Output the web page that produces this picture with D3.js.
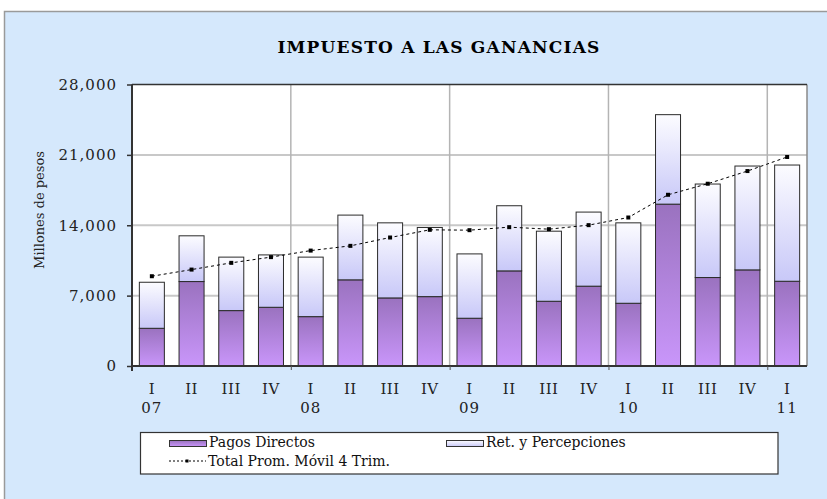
<!DOCTYPE html>
<html>
<head>
<meta charset="utf-8">
<script src="https://cdn.jsdelivr.net/npm/d3@7/dist/d3.min.js"></script>
<style>
  html, body { margin: 0; padding: 0; background: #ffffff; }
  svg { display: block; }
</style>
</head>
<body>
<svg id="chart" width="827" height="499"></svg>
<script>
// ---- data ----
const quarters = ["I","II","III","IV","I","II","III","IV","I","II","III","IV","I","II","III","IV","I"];
const years = ["07","","","","08","","","","09","","","","10","","","","11"];
const pagosDirectos = [3750, 8400, 5510, 5840, 4910, 8570, 6770, 6900, 4750, 9460, 6440, 7940, 6240, 16100, 8800, 9560, 8430];
const retenciones = [4580, 4550, 5320, 5210, 5920, 6440, 7470, 6880, 6400, 6480, 6970, 7370, 8000, 8900, 9300, 10330, 11560];
const promedioMovil = [8930, 9590, 10260, 10830, 11480, 11950, 12780, 13545, 13510, 13810, 13610, 14010, 14770, 17030, 18130, 19390, 20790];
const yTicks = [0, 7000, 14000, 21000, 28000];
const yearBoundaries = [4, 8, 12, 16];
const legendLabels = ["Pagos Directos", "Ret. y Percepciones", "Total Prom. Móvil 4 Trim."];

const W = 827, H = 499;
const plot = { left: 132, right: 807, top: 84.5, bottom: 366 };
const serif = "'DejaVu Serif', 'Liberation Serif', serif";

const svg = d3.select("#chart");
const defs = svg.append("defs");

const gP = defs.append("linearGradient").attr("id", "gradPagos")
  .attr("x1", 0).attr("y1", 0).attr("x2", 0).attr("y2", 1);
gP.append("stop").attr("offset", "0%").attr("stop-color", "#9a72bf");
gP.append("stop").attr("offset", "100%").attr("stop-color", "#c996fa");

const gR = defs.append("linearGradient").attr("id", "gradRet")
  .attr("x1", 0).attr("y1", 0).attr("x2", 0).attr("y2", 1);
gR.append("stop").attr("offset", "0%").attr("stop-color", "#fcfcff");
gR.append("stop").attr("offset", "100%").attr("stop-color", "#c8c8f8");

// background panel
svg.append("rect").attr("x", 0).attr("y", 0).attr("width", W).attr("height", H).attr("fill", "#ffffff");
svg.append("rect").attr("x", 4.5).attr("y", 11.5).attr("width", W + 10).attr("height", H + 10)
  .attr("fill", "#d5e8fc").attr("stroke", "#9a9a9a").attr("stroke-width", 1.5);

// title
svg.append("text").attr("x", 439).attr("y", 53).attr("text-anchor", "middle")
  .attr("font-family", serif).attr("font-weight", "bold").attr("font-size", 17)
  .attr("letter-spacing", 1.2)
  .attr("fill", "#000").text("IMPUESTO A LAS GANANCIAS");

// scales
const x = d3.scaleBand().domain(d3.range(quarters.length)).range([plot.left, plot.right]).paddingInner(0.37).paddingOuter(0.185);
const xb = d3.scaleLinear().domain([0, quarters.length]).range([plot.left, plot.right]);
const y = d3.scaleLinear().domain([0, 28000]).range([plot.bottom, plot.top]);

// plot area
svg.append("rect").attr("x", plot.left).attr("y", plot.top)
  .attr("width", plot.right - plot.left).attr("height", plot.bottom - plot.top).attr("fill", "#ffffff");

// gridlines
svg.append("g").selectAll("line").data(yTicks.slice(1, -1)).join("line")
  .attr("x1", plot.left).attr("x2", plot.right)
  .attr("y1", d => y(d)).attr("y2", d => y(d))
  .attr("stroke", "#c8c8c8").attr("stroke-width", 2);
svg.append("g").selectAll("line").data(yearBoundaries).join("line")
  .attr("x1", d => xb(d)).attr("x2", d => xb(d))
  .attr("y1", plot.top).attr("y2", plot.bottom)
  .attr("stroke", "#b4b4b4").attr("stroke-width", 1.5);

// plot frame
svg.append("line").attr("x1", plot.right).attr("x2", plot.right).attr("y1", plot.top).attr("y2", plot.bottom)
  .attr("stroke", "#8a8a8a").attr("stroke-width", 1.5);
svg.append("line").attr("x1", plot.left).attr("x2", plot.right).attr("y1", plot.top).attr("y2", plot.top)
  .attr("stroke", "#333").attr("stroke-width", 1.5);

// bars
const bars = svg.append("g");
bars.selectAll("rect.pagos").data(pagosDirectos).join("rect").attr("class", "pagos")
  .attr("x", (d, i) => x(i)).attr("width", x.bandwidth())
  .attr("y", d => y(d)).attr("height", d => y(0) - y(d))
  .attr("fill", "url(#gradPagos)").attr("stroke", "#2a2a2a").attr("stroke-width", 1);
bars.selectAll("rect.ret").data(retenciones).join("rect").attr("class", "ret")
  .attr("x", (d, i) => x(i)).attr("width", x.bandwidth())
  .attr("y", (d, i) => y(pagosDirectos[i] + d)).attr("height", (d, i) => y(pagosDirectos[i]) - y(pagosDirectos[i] + d))
  .attr("fill", "url(#gradRet)").attr("stroke", "#2a2a2a").attr("stroke-width", 1);

// moving average line
const cx = i => x(i) + x.bandwidth() / 2;
svg.append("path").datum(promedioMovil)
  .attr("d", d3.line().x((d, i) => cx(i)).y(d => y(d)))
  .attr("fill", "none").attr("stroke", "#000").attr("stroke-width", 1).attr("stroke-dasharray", "3,3");
svg.append("g").selectAll("rect").data(promedioMovil).join("rect")
  .attr("x", (d, i) => cx(i) - 2).attr("y", d => y(d) - 2).attr("width", 4).attr("height", 4).attr("fill", "#000");

// y axis
const yAxis = svg.append("g").attr("transform", `translate(${plot.left},0)`)
  .call(d3.axisLeft(y).tickValues(yTicks).tickSize(5).tickPadding(10).tickFormat(d3.format(",")));
yAxis.select(".domain").attr("stroke", "#333").attr("stroke-width", 2).attr("d", `M0,${plot.top}V${plot.bottom + 5}`);
yAxis.selectAll(".tick line").attr("stroke", "#333").attr("stroke-width", 1.5);
yAxis.selectAll(".tick text").attr("font-family", serif).attr("font-size", 15).attr("letter-spacing", 1).attr("fill", "#222");

// x axis
const xAxis = svg.append("g").attr("transform", `translate(0,${plot.bottom})`)
  .call(d3.axisBottom(xb).tickValues(yearBoundaries).tickSize(4).tickFormat(""));
xAxis.select(".domain").attr("stroke", "#333").attr("stroke-width", 2).attr("d", `M${plot.left},0H${plot.right}`);
xAxis.selectAll(".tick line").attr("stroke", "#555").attr("stroke-width", 1);

svg.append("g").selectAll("text").data(quarters).join("text")
  .attr("x", (d, i) => cx(i)).attr("y", 394).attr("text-anchor", "middle")
  .attr("font-family", serif).attr("font-size", 15).attr("letter-spacing", 0.5).attr("fill", "#222").text(d => d);
svg.append("g").selectAll("text").data(years).join("text")
  .attr("x", (d, i) => cx(i)).attr("y", 413).attr("text-anchor", "middle")
  .attr("font-family", serif).attr("font-size", 15).attr("letter-spacing", 1).attr("fill", "#222").text(d => d);

// y axis title
svg.append("text").attr("transform", "translate(44,210) rotate(-90)").attr("text-anchor", "middle")
  .attr("font-family", serif).attr("font-size", 13).attr("fill", "#222").text("Millones de pesos");

// legend
const lg = svg.append("g");
lg.append("rect").attr("x", 140.5).attr("y", 432.5).attr("width", 637.5).attr("height", 41.5)
  .attr("fill", "#ffffff").attr("stroke", "#333").attr("stroke-width", 1.2);
lg.append("rect").attr("x", 169.5).attr("y", 440.5).attr("width", 37).attr("height", 6)
  .attr("fill", "url(#gradPagos)").attr("stroke", "#333").attr("stroke-width", 1);
lg.append("text").attr("x", 209).attr("y", 447).attr("font-family", serif).attr("font-size", 14).attr("fill", "#111").text(legendLabels[0]);
lg.append("rect").attr("x", 446.5).attr("y", 440.5).attr("width", 37).attr("height", 6)
  .attr("fill", "url(#gradRet)").attr("stroke", "#333").attr("stroke-width", 1);
lg.append("text").attr("x", 486).attr("y", 447).attr("font-family", serif).attr("font-size", 14).attr("fill", "#111").text(legendLabels[1]);
lg.append("line").attr("x1", 169).attr("x2", 206).attr("y1", 461).attr("y2", 461)
  .attr("stroke", "#000").attr("stroke-width", 1).attr("stroke-dasharray", "2,2");
lg.append("rect").attr("x", 185.5).attr("y", 459.5).attr("width", 3).attr("height", 3).attr("fill", "#000");
lg.append("text").attr("x", 208).attr("y", 465.5).attr("font-family", serif).attr("font-size", 14).attr("fill", "#111").text(legendLabels[2]);
</script>
</body>
</html>
